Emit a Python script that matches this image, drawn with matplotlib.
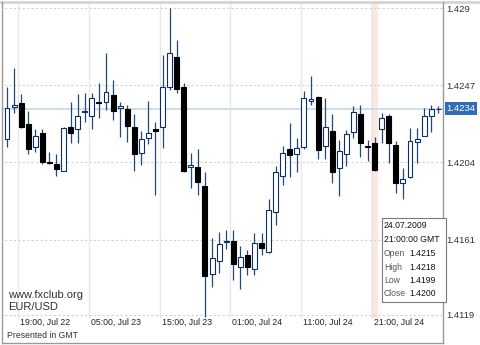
import numpy as np
import matplotlib
matplotlib.use("Agg")
import matplotlib.pyplot as plt
import matplotlib.transforms as mtransforms
from matplotlib.lines import Line2D
from matplotlib.patches import Rectangle

plt.rcParams['font.family'] = ['Liberation Sans', 'DejaVu Sans']

# EUR/USD hourly candles
opens = [1.42170, 1.42349, 1.42371, 1.42254, 1.42126, 1.42204, 1.42042, 1.42031, 1.41992, 1.42237,
         1.42226, 1.42320, 1.42298, 1.42376, 1.42376, 1.42415, 1.42343, 1.42337, 1.42237, 1.42092,
         1.42176, 1.42226, 1.42237, 1.42460, 1.42627, 1.42460, 1.42014, 1.42014, 1.41909, 1.41418,
         1.41491, 1.41597, 1.41602, 1.41457, 1.41524, 1.41446, 1.41591, 1.41541, 1.41764, 1.41964,
         1.42115, 1.42087, 1.42126, 1.42382, 1.42404, 1.42131, 1.42215, 1.42009, 1.42087, 1.42209,
         1.42310, 1.42134, 1.4215, 1.42226, 1.42298, 1.42137, 1.41925, 1.41959, 1.42154, 1.42187,
         1.42298, 1.42335]
highs = [1.42460, 1.42566, 1.42421, 1.42326, 1.42226, 1.42226, 1.42098, 1.42087, 1.42235, 1.42376,
         1.42421, 1.42427, 1.42427, 1.42482, 1.42649, 1.42499, 1.42376, 1.42360, 1.42310, 1.42215,
         1.42382, 1.42265, 1.42638, 1.42900, 1.42722, 1.42482, 1.42092, 1.42115, 1.41987, 1.41619,
         1.41652, 1.41663, 1.41663, 1.41574, 1.41552, 1.41647, 1.41647, 1.41836, 1.42020, 1.42131,
         1.42259, 1.42176, 1.42438, 1.42521, 1.42410, 1.42399, 1.42310, 1.42165, 1.42220, 1.42354,
         1.42360, 1.42165, 1.4218, 1.42315, 1.42310, 1.42159, 1.42009, 1.42232, 1.42232, 1.42343,
         1.42360, 1.42354]
lows = [1.42126, 1.42315, 1.42232, 1.42087, 1.42098, 1.42031, 1.42031, 1.41964, 1.41990, 1.42148,
        1.42148, 1.42265, 1.42226, 1.42287, 1.42332, 1.42276, 1.42181, 1.42154, 1.41992, 1.42026,
        1.42142, 1.41858, 1.42120, 1.42443, 1.42427, 1.41988, 1.41897, 1.41858, 1.41179, 1.41346,
        1.41424, 1.41558, 1.41385, 1.41335, 1.41413, 1.41413, 1.41524, 1.41535, 1.41691, 1.41914,
        1.41959, 1.41987, 1.42115, 1.42360, 1.42059, 1.42059, 1.41925, 1.41853, 1.42020, 1.42176,
        1.42070, 1.42048, 1.4199, 1.42148, 1.42037, 1.41870, 1.41836, 1.41953, 1.42037, 1.42187,
        1.42209, 1.42315]
closes = [1.42343, 1.42360, 1.42237, 1.42115, 1.42187, 1.42042, 1.42037, 1.42003, 1.42232, 1.42204,
          1.42298, 1.42322, 1.42399, 1.42371, 1.42432, 1.42326, 1.42354, 1.42243, 1.42087, 1.42170,
          1.42204, 1.42215, 1.42460, 1.42649, 1.42449, 1.41992, 1.42026, 1.41931, 1.41407, 1.41508,
          1.41585, 1.41602, 1.41474, 1.41513, 1.41457, 1.41591, 1.41563, 1.41775, 1.41987, 1.42092,
          1.42081, 1.42120, 1.42399, 1.42393, 1.42109, 1.42237, 1.41987, 1.42103, 1.42198, 1.42321,
          1.42148, 1.42128, 1.4200, 1.42287, 1.42148, 1.41925, 1.41948, 1.42159, 1.42170, 1.42298,
          1.42337, 1.4234]

tick_pos = [2, 12, 22, 32, 42, 52]
tick_labels = ["19:00, Jul 22", "05:00, Jul 23", "15:00, Jul 23",
               "01:00, Jul 24", "11:00, Jul 24", "21:00, Jul 24"]
price_levels = [1.429, 1.4247, 1.4204, 1.4161, 1.4119]
price_labels = ["1.429", "1.4247", "1.4204", "1.4161", "1.4119"]
last_price = 1.4234
tip_index = 52
tip_date = "24.07.2009"
tip_time = "21:00:00 GMT"

W, H = 480, 345
def fx(px):
    return px / W
def fy(py):
    return 1 - py / H

fig = plt.figure(figsize=(4.8, 3.45), dpi=100)
ax = fig.add_axes([fx(3), fy(318), 440 / W, 315 / H])

x = np.arange(len(opens))
o = np.array(opens)
c = np.array(closes)
up = c >= o

# background marks
ax.axvspan(tip_index - 0.45, tip_index + 0.45, color='#fde7de', zorder=0.5, lw=0)
for p in tick_pos:
    ax.axvline(p - 0.42, color='#e8e8e8', lw=1, zorder=0.6)
ax.hlines(price_levels, -1, len(opens) + 1, colors='#d2d2d2', linestyles=(0, (2, 2)), lw=0.8, zorder=0.7)
ax.axhline(last_price, color='#c8dbef', lw=1.3, zorder=0.8)

# wicks + bodies
ax.vlines(x, lows, highs, colors='#23487a', lw=0.9, zorder=2)
bottoms = np.minimum(o, c)
heights = np.maximum(np.abs(c - o), 0.00005)
ax.bar(x[up], heights[up], width=0.7, bottom=bottoms[up], color='white',
       edgecolor='#0d2f66', linewidth=0.8, zorder=3)
ax.bar(x[~up], heights[~up], width=0.7, bottom=bottoms[~up], color='black',
       edgecolor='black', linewidth=0.8, zorder=3)

ax.set_xlim(-0.566, 61.67)
ax.set_ylim(1.41173, 1.42928)
for s in ax.spines.values():
    s.set_visible(False)
ax.set_xticks([])
ax.yaxis.tick_right()
ax.set_yticks(price_levels)
ax.set_yticklabels(price_labels)
ax.tick_params(axis='y', length=0, pad=2.5, labelsize=6.8, labelcolor='#333333')

# time labels under the plot
trans = mtransforms.blended_transform_factory(ax.transData, ax.transAxes)
for p, lab in zip(tick_pos, tick_labels):
    ax.text(p - 0.14, -0.013, lab, transform=trans, ha='left', va='center',
            fontsize=6.3, color='#222222', clip_on=False)

# last price marker
trans_y = mtransforms.blended_transform_factory(ax.transAxes, ax.transData)
ax.text(1.0 + 3.5 / 440, last_price, "%.4f" % last_price, transform=trans_y,
        ha='left', va='center', fontsize=6.8, color='white',
        bbox=dict(boxstyle='square,pad=0.2', fc='#2f6eb5', ec='none'))

# frame
frame = '#9a9a9a'
fig.add_artist(Line2D([0, 1], [fy(1.5), fy(1.5)], color='#d4d4d4', lw=2, transform=fig.transFigure))
fig.add_artist(Line2D([fx(2), fx(2)], [fy(2), fy(343)], color=frame, lw=1, transform=fig.transFigure))
fig.add_artist(Line2D([fx(443), fx(443)], [fy(2), fy(343)], color=frame, lw=1, transform=fig.transFigure))
fig.add_artist(Line2D([fx(2), fx(443)], [fy(343), fy(343)], color=frame, lw=1, transform=fig.transFigure))

fig.text(fx(8), fy(295), "www.fxclub.org", fontsize=8, color='#333333', va='center')
fig.text(fx(8), fy(307), "EUR/USD", fontsize=8, color='#333333', va='center')
fig.text(fx(7), fy(335), "Presented in GMT", fontsize=6.2, color='#333333', va='center')

# tooltip for the selected candle
fig.add_artist(Rectangle((fx(382), fy(302)), 64 / W, 84 / H, transform=fig.transFigure,
                         fc='white', ec='#7a7a7a', lw=0.8, zorder=5))
fig.text(fx(384), fy(226), tip_date, fontsize=6.2, color='#111111', va='center', zorder=6)
fig.text(fx(384), fy(240), tip_time, fontsize=6.2, color='#111111', va='center', zorder=6)
rows = [("Open", opens[tip_index]), ("High", highs[tip_index]),
        ("Low", lows[tip_index]), ("Close", closes[tip_index])]
for k, (name, val) in enumerate(rows):
    yy = 254 + k * 13.3
    fig.text(fx(384), fy(yy), name, fontsize=6.2, color='#555555', va='center', zorder=6)
    fig.text(fx(409), fy(yy), "%.4f" % val, fontsize=6.2, color='#111111', va='center', zorder=6)

fig.savefig("out.png", dpi=100)
